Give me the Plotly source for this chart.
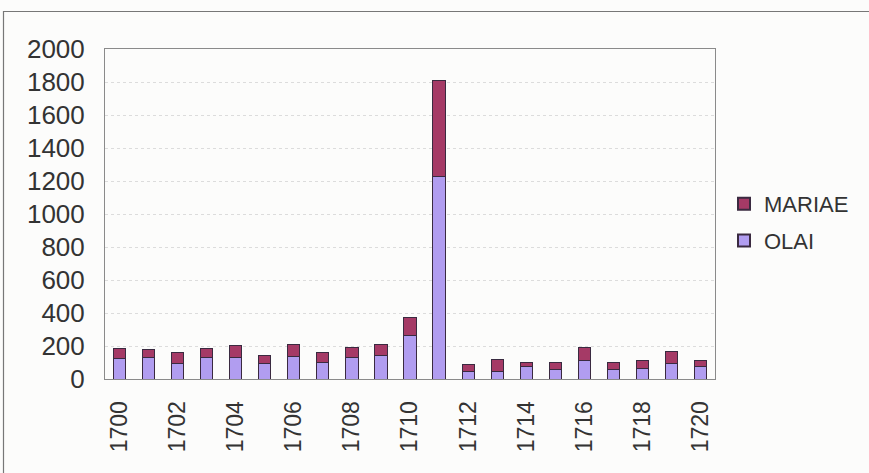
import plotly.graph_objects as go

years = [str(y) for y in range(1700, 1721)]
olai = [126, 130, 96, 130, 130, 94, 136, 98, 130, 140, 263, 1228,
        47, 47, 74, 56, 112, 56, 64, 92, 76]
mariae = [59, 47, 64, 56, 74, 46, 73, 64, 59, 69, 107, 581,
          41, 71, 28, 46, 77, 46, 46, 73, 36]
tick_labels = [str(y) for y in range(1700, 1721, 2)]

W, H = 869, 473
L, R, T, B = 105, 715, 49, 379

fig = go.Figure()
fig.add_trace(go.Bar(x=years, y=olai, name="OLAI", legendgroup="o", legendrank=2,
                     marker=dict(color="#b19df0", line=dict(color="#3a2a40", width=1))))
fig.add_trace(go.Bar(x=years, y=mariae, name="MARIAE", legendgroup="m", legendrank=1,
                     marker=dict(color="#a53a66", line=dict(color="#3a2a40", width=1))))

pw, ph = R - L, B - T
def px_x(v):
    return (v - L) / pw
def px_y(v):
    return (B - v) / ph

fig.update_layout(
    width=W, height=H,
    barmode="stack",
    bargap=0.58,
    paper_bgcolor="#fcfcfb",
    plot_bgcolor="#fcfcfb",
    margin=dict(l=L, r=W - R, t=T, b=H - B, pad=0),
    font=dict(family="Liberation Sans, Arial, sans-serif", size=22, color="#333333"),
    showlegend=True,
    legend=dict(x=px_x(724), y=px_y(183), xanchor="left", yanchor="top",
                traceorder="grouped", tracegroupgap=5,
                bgcolor="rgba(0,0,0,0)",
                font=dict(size=22, color="#333333"), itemsizing="constant"),
    xaxis=dict(type="category", tickmode="array", tickvals=tick_labels, ticktext=tick_labels,
               tickangle=-90, showgrid=False, showline=True, linecolor="#8a8a8a",
               linewidth=1, mirror=True, ticks="", ticklabelstandoff=12,
               tickfont=dict(size=23)),
    yaxis=dict(range=[0, 2000], dtick=200, showgrid=True, gridcolor="#dcdcdc",
               griddash="dot", gridwidth=1, showline=True, linecolor="#8a8a8a",
               linewidth=1, mirror=True, ticks="", ticklabelstandoff=14,
               zeroline=False, tickfont=dict(size=26)),
    shapes=[dict(type="rect", xref="paper", yref="paper",
                 x0=px_x(3.5), x1=px_x(880), y0=px_y(490), y1=px_y(11.5),
                 line=dict(color="#777777", width=1.2), fillcolor="rgba(0,0,0,0)",
                 layer="below")],
)

fig.write_html("out.html", config={"displayModeBar": False},
               post_script="document.body.style.margin='0';document.body.style.background='#fcfcfb';")
